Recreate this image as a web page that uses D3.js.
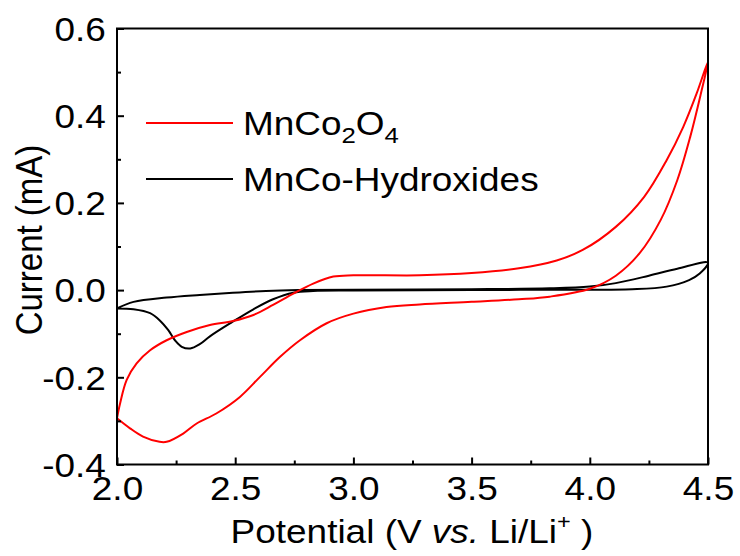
<!DOCTYPE html>
<html>
<head>
<meta charset="utf-8">
<script src="https://cdn.jsdelivr.net/npm/d3@7"></script>
<style>
  body { margin: 0; background: #fff; }
  svg text { font-family: "Liberation Sans", Arial, sans-serif; fill: #000; }
</style>
</head>
<body>
<div id="chart"></div>
<script>
// CV loops, potential (V) and current (mA)
var mnCoV = [2.000, 2.013, 2.041, 2.083, 2.14, 2.21, 2.295, 2.393, 2.49, 2.577, 2.66, 2.746, 2.83, 2.915, 3.0, 3.28, 3.5, 3.7, 3.86, 3.97, 4.11, 4.23, 4.325, 4.395, 4.452, 4.5,
             4.47, 4.425, 4.37, 4.30, 4.21, 4.11, 4.0, 3.83, 3.7, 3.5, 3.28, 3.14, 3.0, 2.887, 2.774, 2.69, 2.605, 2.52, 2.42, 2.337, 2.28, 2.21, 2.18, 2.11, 2.055, 2.0];
var mnCoI = [-0.294, -0.260, -0.206, -0.168, -0.138, -0.115, -0.096, -0.080, -0.071, -0.057, -0.034, -0.008, 0.015, 0.031, 0.034, 0.034, 0.039, 0.050, 0.068, 0.092, 0.145, 0.214, 0.298, 0.374, 0.451, 0.524,
             0.451, 0.352, 0.252, 0.161, 0.084, 0.033, 0.003, -0.015, -0.021, -0.027, -0.033, -0.039, -0.054, -0.076, -0.115, -0.153, -0.199, -0.245, -0.283, -0.306, -0.329, -0.348, -0.348, -0.336, -0.317, -0.294];

var hydV = [2.0, 2.07, 2.21, 2.35, 2.49, 2.63, 2.77, 3.0, 3.5, 3.83, 4.0, 4.11, 4.25, 4.37, 4.5,
            4.465, 4.42, 4.325, 4.18, 3.83, 3.5, 3.0, 2.83, 2.746, 2.66, 2.577, 2.485, 2.393, 2.35, 2.31, 2.274, 2.245, 2.217, 2.18, 2.14, 2.07, 2.0];
var hydI = [-0.042, -0.027, -0.017, -0.011, -0.006, -0.002, 0.0, 0.001, 0.002, 0.004, 0.008, 0.016, 0.033, 0.049, 0.063,
            0.038, 0.023, 0.008, 0.002, 0.001, 0.0, -0.001, -0.002, -0.006, -0.021, -0.044, -0.074, -0.106, -0.124, -0.134, -0.130, -0.115, -0.092, -0.069, -0.053, -0.044, -0.042];

var xMajor = [2.0, 2.5, 3.0, 3.5, 4.0, 4.5];
var xMinor = [2.25, 2.75, 3.25, 3.75, 4.25];
var yMajor = [0.6, 0.4, 0.2, 0.0, -0.2, -0.4];
var yMinor = [0.5, 0.3, 0.1, -0.1, -0.3];

var series = [
  { name: 'MnCo2O4', v: mnCoV, i: mnCoI, color: '#ff0000' },
  { name: 'MnCo-Hydroxides', v: hydV, i: hydI, color: '#000000' }
];

var W = 740, H = 556;
var m = { left: 117, right: 708, top: 28.5, bottom: 464.5 };
var fs = 33;
var sx = 'scale(1.12,1)'; // the figure's text is a little wider than Arial

var svg = d3.select('#chart').append('svg')
  .attr('width', W).attr('height', H);

var x = d3.scaleLinear().domain([2.0, 4.5]).range([m.left, m.right]);
var y = d3.scaleLinear().domain([-0.4, 0.6]).range([m.bottom, m.top]);

// curves
var line = d3.line()
  .x(function (d) { return x(d[0]); })
  .y(function (d) { return y(d[1]); })
  .curve(d3.curveCatmullRom.alpha(0.5));

svg.append('clipPath').attr('id', 'clip')
  .append('rect').attr('x', m.left).attr('y', m.top)
  .attr('width', m.right - m.left).attr('height', m.bottom - m.top);

var plot = svg.append('g').attr('clip-path', 'url(#clip)');
// black first so red sits over it where they cross
series.slice().reverse().forEach(function (s) {
  var pts = s.v.map(function (v, k) { return [v, s.i[k]]; });
  plot.append('path')
    .attr('d', line(pts))
    .attr('fill', 'none')
    .attr('stroke', s.color)
    .attr('stroke-width', 2)
    .attr('stroke-linejoin', 'round');
});

// axes, ticks inward
var fmt = function (d) { return d.toFixed(1); };

var gx = svg.append('g').attr('transform', 'translate(0,' + m.bottom + ')')
  .call(d3.axisBottom(x).tickValues(xMajor).tickFormat(fmt).tickSize(-7).tickPadding(12));
svg.append('g').attr('transform', 'translate(0,' + m.bottom + ')')
  .call(d3.axisBottom(x).tickValues(xMinor).tickFormat('').tickSize(-4));

var gy = svg.append('g').attr('transform', 'translate(' + m.left + ',0)')
  .call(d3.axisLeft(y).tickValues(yMajor).tickFormat(fmt).tickSize(-7).tickPadding(10));
svg.append('g').attr('transform', 'translate(' + m.left + ',0)')
  .call(d3.axisLeft(y).tickValues(yMinor).tickFormat('').tickSize(-4));

svg.selectAll('.domain').remove();
svg.selectAll('.tick line').attr('stroke', '#000').attr('stroke-width', 2);
svg.selectAll('.tick text').attr('font-family', null).attr('fill', null)
  .attr('font-size', fs).attr('transform', sx);
gx.selectAll('.tick text').attr('dy', '0.72em');
gy.selectAll('.tick text').attr('dy', '0.36em');

// frame
svg.append('rect')
  .attr('x', m.left).attr('y', m.top)
  .attr('width', m.right - m.left).attr('height', m.bottom - m.top)
  .attr('fill', 'none').attr('stroke', '#000').attr('stroke-width', 2);

// axis titles
var xt = svg.append('g').attr('transform', 'translate(412,543) ' + sx)
  .append('text').attr('text-anchor', 'middle').attr('font-size', fs);
xt.append('tspan').text('Potential (V ');
xt.append('tspan').attr('font-style', 'italic').text('vs.');
xt.append('tspan').text(' Li/Li');
xt.append('tspan').attr('font-size', 21).attr('dy', -14).text('+');
xt.append('tspan').attr('dy', 14).text(' )');

svg.append('text')
  .attr('transform', 'translate(42,240) ' + sx + ' rotate(-90)')
  .attr('text-anchor', 'middle').attr('font-size', fs)
  .text('Current (mA)');

// legend
var legY = [123, 179];
series.forEach(function (s, k) {
  svg.append('line')
    .attr('x1', 146).attr('x2', 233)
    .attr('y1', legY[k]).attr('y2', legY[k])
    .attr('stroke', s.color).attr('stroke-width', 2);
});
var l1 = svg.append('g').attr('transform', 'translate(243,' + (legY[0] + 12) + ') ' + sx)
  .append('text').attr('font-size', fs);
l1.append('tspan').text('MnCo');
l1.append('tspan').attr('font-size', 23).attr('dy', 8).text('2');
l1.append('tspan').attr('dy', -8).text('O');
l1.append('tspan').attr('font-size', 23).attr('dy', 8).text('4');
svg.append('g').attr('transform', 'translate(243,' + (legY[1] + 12) + ') ' + sx)
  .append('text').attr('font-size', fs)
  .text('MnCo-Hydroxides');
</script>
</body>
</html>
